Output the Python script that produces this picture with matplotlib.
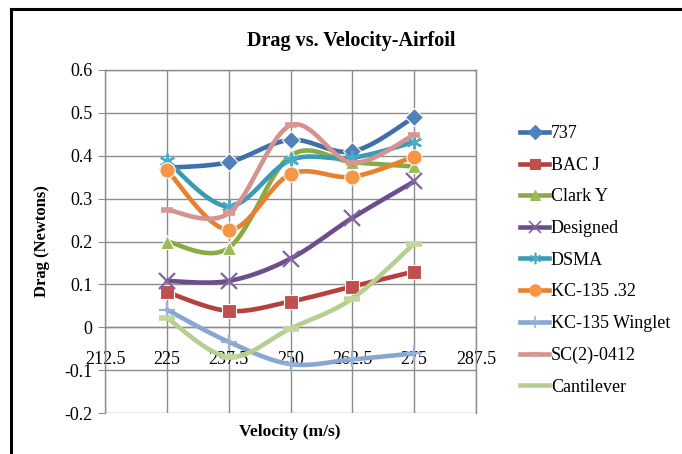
import numpy as np
import matplotlib.pyplot as plt
from matplotlib.lines import Line2D

plt.rcParams['font.family'] = ['Liberation Serif', 'DejaVu Serif']

velocity = [225, 237.5, 250, 262.5, 275]
names = ['737', 'BAC J', 'Clark Y', 'Designed', 'DSMA', 'KC-135 .32',
         'KC-135 Winglet', 'SC(2)-0412', 'Cantilever']
drag_737 = [0.372, 0.385, 0.437, 0.410, 0.490]
drag_bacj = [0.082, 0.038, 0.060, 0.095, 0.130]
drag_clarky = [0.200, 0.185, 0.400, 0.385, 0.375]
drag_designed = [0.108, 0.108, 0.160, 0.255, 0.340]
drag_dsma = [0.388, 0.282, 0.390, 0.395, 0.432]
drag_kc32 = [0.367, 0.227, 0.357, 0.351, 0.398]
drag_winglet = [0.041, -0.034, -0.086, -0.075, -0.061]
drag_sc = [0.274, 0.266, 0.471, 0.384, 0.449]
drag_cant = [0.022, -0.069, -0.003, 0.067, 0.195]
series = [drag_737, drag_bacj, drag_clarky, drag_designed, drag_dsma,
          drag_kc32, drag_winglet, drag_sc, drag_cant]

line_cols = ['#3f6fac', '#b5403d', '#89aa44', '#6c4e8f', '#3c9ab3',
             '#e8812f', '#88a6d3', '#d49390', '#b5cf8f']
mark_cols = ['#4f81bd', '#c0504d', '#9bbb59', '#8064a2', '#4bacc6',
             '#f79646', '#95b3d7', '#d99694', '#c3d69b']
markers = ['D', 's', '^', 'x', (6, 2, 0), 'o', '+', '_', '_']
msizes = [9, 10, 10, 11, 11, 11, 11, 9, 11]


def smooth(x, y, n=30):
    # Catmull-Rom through the points, like Excel's smoothed line
    p = np.column_stack([x, y]).astype(float)
    p = np.vstack([p[0], p, p[-1]])
    out = []
    t = np.linspace(0, 1, n)[:, None]
    for i in range(1, len(p) - 2):
        p0, p1, p2, p3 = p[i - 1], p[i], p[i + 1], p[i + 2]
        c1 = p1 + (p2 - p0) / 6
        c2 = p2 - (p3 - p1) / 6
        seg = ((1 - t) ** 3) * p1 + 3 * ((1 - t) ** 2) * t * c1 \
            + 3 * (1 - t) * t ** 2 * c2 + t ** 3 * p2
        out.append(seg)
    out = np.vstack(out)
    return out[:, 0], out[:, 1]


fig = plt.figure(figsize=(6.82, 4.54), dpi=100)
ax = fig.add_axes([105 / 682, 41 / 454, 371 / 682, 343 / 454])

for i, vals in enumerate(series):
    sx, sy = smooth(velocity, vals)
    ax.plot(sx, sy, color=line_cols[i], lw=3.3, solid_capstyle='round',
            zorder=3 + i)
    mew = 1.6 if markers[i] in ('x', '+', (6, 2, 0)) else 0.8
    if markers[i] == '_':
        mew = 4
    ax.plot(velocity, vals, ls='none', marker=markers[i], ms=msizes[i],
            mfc=mark_cols[i], mec=mark_cols[i] if mew > 1 else 'white',
            mew=mew, zorder=3 + i)

ax.set_xlim(212.5, 287.5)
ax.set_ylim(-0.2, 0.6)
ax.set_xticks(np.arange(212.5, 290, 12.5))
ax.set_xticklabels(['212.5', '225', '237.5', '250', '262.5', '275', '287.5'])
ax.set_yticks(np.arange(-0.2, 0.61, 0.1))
ax.set_yticklabels(['-0.2', '-0.1', '0', '0.1', '0.2', '0.3', '0.4', '0.5', '0.6'])
ax.grid(True, color='#8c8c8c', lw=1.0)
ax.set_axisbelow(True)
for s in ax.spines.values():
    s.set_color('#8c8c8c')
    s.set_linewidth(1.0)
ax.spines['bottom'].set_position(('data', 0))
ax.tick_params(axis='y', length=5, color='#8c8c8c', labelsize=13, pad=4)
ax.tick_params(axis='x', length=0, labelsize=13, pad=17)

ax.set_ylabel('Drag (Newtons)', fontsize=12, fontweight='bold', labelpad=10)
fig.text(290 / 682, 1 - 432 / 454, 'Velocity (m/s)', fontsize=12.5,
         fontweight='bold', ha='center', va='center')
fig.text(351 / 682, 1 - 41 / 454, 'Drag vs. Velocity-Airfoil', fontsize=14.5,
         fontweight='bold', ha='center', va='center')

handles = []
for i in range(len(names)):
    mk = markers[i] if i < 8 else None
    mew = 1.2 if markers[i] in ('x', '+', (6, 2, 0)) else 0.8
    if markers[i] == '_':
        mew = 3
    handles.append(Line2D([], [], color=line_cols[i], lw=3.3, marker=mk,
                          ms=msizes[i] * 0.75, mfc=mark_cols[i],
                          mec=mark_cols[i], mew=mew))
fig.legend(handles, names, loc='upper left', bbox_to_anchor=(513 / 682, 1 - 118 / 454),
           frameon=False, fontsize=13, handlelength=1.6, handletextpad=0.1,
           labelspacing=0.81, borderaxespad=0)

# outer chart border (clipped at right and bottom)
fig.add_artist(Line2D([11 / 682, 1.0], [1 - 9 / 454, 1 - 9 / 454],
                      transform=fig.transFigure, color='black', lw=2.2))
fig.add_artist(Line2D([11 / 682, 11 / 682], [0, 1 - 9 / 454],
                      transform=fig.transFigure, color='black', lw=2.2))

fig.savefig('out.png', dpi=100)
